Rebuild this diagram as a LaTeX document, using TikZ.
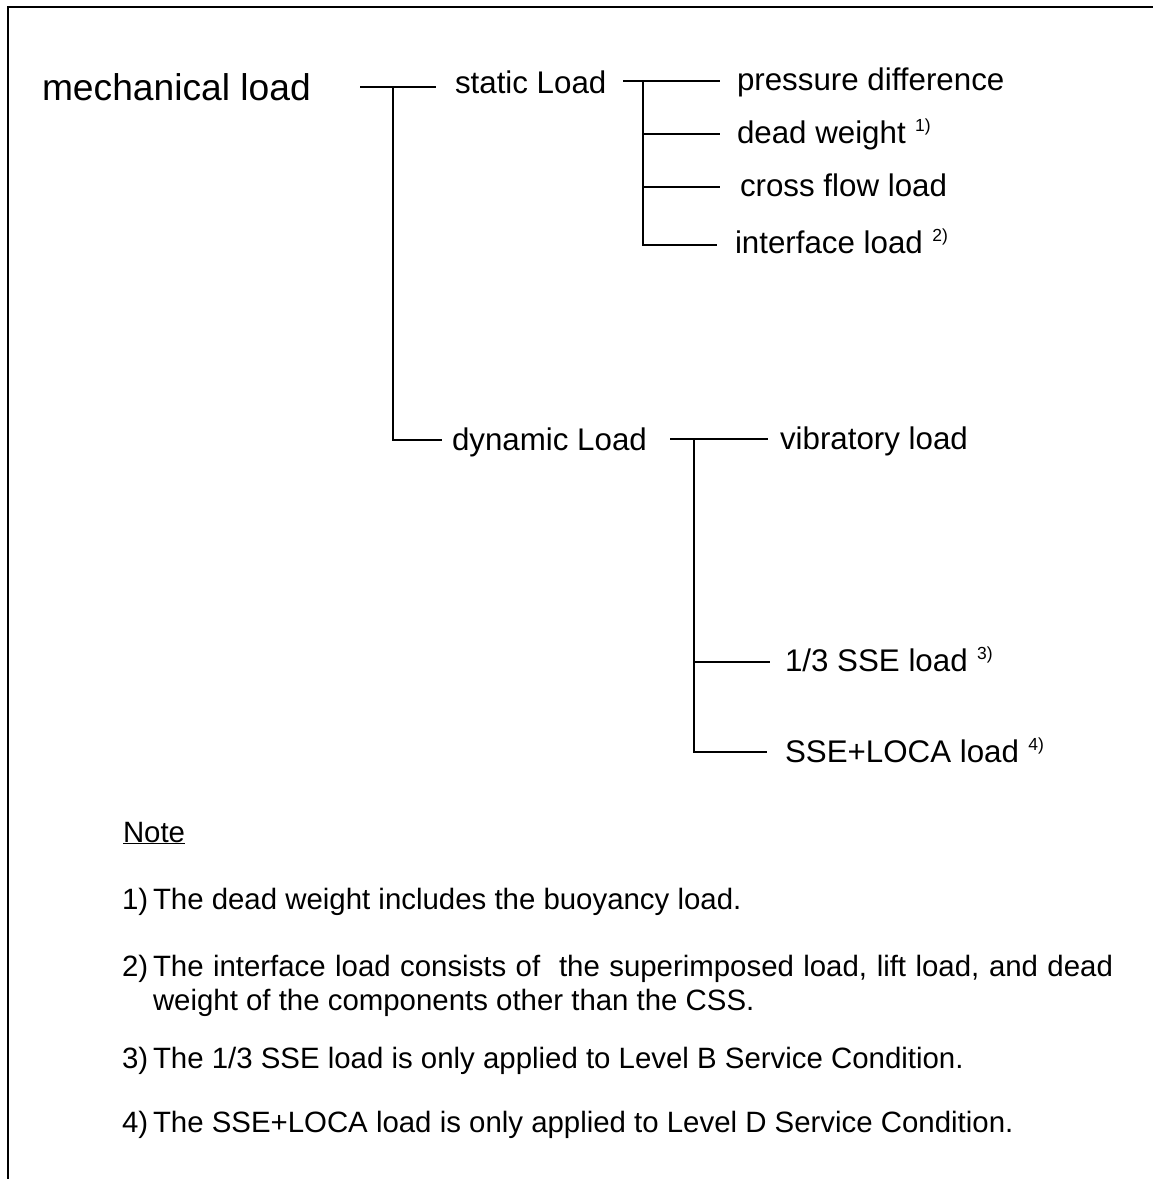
\documentclass[tikz,border=0pt]{standalone}
\usepackage{fontspec}
\setmainfont{Liberation Sans}
\begin{document}
\begin{tikzpicture}[x=1pt,y=-1pt,
  lbl/.style={font=\fontsize{31.3}{37}\selectfont, anchor=base west, inner sep=0pt, outer sep=0pt},
  big/.style={font=\fontsize{37.2}{44}\selectfont, anchor=base west, inner sep=0pt, outer sep=0pt},
  note/.style={font=\fontsize{29.4}{35}\selectfont, anchor=base west, inner sep=0pt, outer sep=0pt},
  conn/.style={line width=2pt},
  frame/.style={line width=2.2pt}]
\newcommand{\fnm}[1]{\hspace{0.3em}\raisebox{12pt}{\fontsize{17.5}{18}\selectfont #1}}
\useasboundingbox (0,0) rectangle (1153,1179);
% frame
\coordinate (f1) at (8,1179);
\coordinate (f2) at (8,7);
\coordinate (f3) at (1153,7);
\draw[frame] (f1) -- (f2) -- (f3);
% labels
\node[big] (mech) at (42,100) {mechanical load};
\node[lbl] (stat) at (455,93) {static Load};
\node[lbl] (dyn) at (452,450) {dynamic Load};
\node[lbl] (pd) at (737,90) {pressure difference};
\node[lbl] (dw) at (737,143) {dead weight\fnm{1)}};
\node[lbl] (cf) at (740,196) {cross flow load};
\node[lbl] (il) at (735,253) {interface load\fnm{2)}};
\node[lbl] (vib) at (780,449) {vibratory load};
\node[lbl] (sse) at (785,671) {1/3 SSE load\fnm{3)}};
\node[lbl] (loca) at (785,762) {SSE+LOCA load\fnm{4)}};
% tree 1
\coordinate (m0) at (360,87);
\coordinate (mj) at (393,87);
\coordinate (m1) at (436,87);
\coordinate (mb) at (393,440);
\coordinate (m2) at (442,440);
\draw[conn] (m0) -- (m1);
\draw[conn] (mj) -- (mb) -- (m2);
% tree static
\coordinate (s0) at (623,81);
\coordinate (sj) at (643,81);
\coordinate (s1) at (720,81);
\coordinate (sj2) at (643,134);
\coordinate (s2) at (720,134);
\coordinate (sj3) at (643,187);
\coordinate (s3) at (720,187);
\coordinate (sb) at (643,245);
\coordinate (s4) at (717,245);
\draw[conn] (s0) -- (s1);
\draw[conn] (sj) -- (sb) -- (s4);
\draw[conn] (sj2) -- (s2);
\draw[conn] (sj3) -- (s3);
% tree dynamic
\coordinate (d0) at (670,439);
\coordinate (dj) at (694,439);
\coordinate (d1) at (768,439);
\coordinate (dj2) at (694,662);
\coordinate (d2) at (770,662);
\coordinate (db) at (694,752);
\coordinate (d3) at (767,752);
\draw[conn] (d0) -- (d1);
\draw[conn] (dj) -- (db) -- (d3);
\draw[conn] (dj2) -- (d2);
% notes
\node[note] (nt) at (123,842) {\underline{Note}};
\node[note] (n1a) at (122,909) {1)};
\node[note] (n1) at (153,909) {The dead weight includes the buoyancy load.};
\node[note] (n2a) at (122,976) {2)};
\node[note] (n2) at (153,976) {\makebox[960pt][s]{The interface load consists of \ the superimposed load, lift load, and dead}};
\node[note] (n2b) at (153,1010) {weight of the components other than the CSS.};
\node[note] (n3a) at (122,1068) {3)};
\node[note] (n3) at (153,1068) {The 1/3 SSE load is only applied to Level B Service Condition.};
\node[note] (n4a) at (122,1132) {4)};
\node[note] (n4) at (153,1132) {The SSE+LOCA load is only applied to Level D Service Condition.};
\end{tikzpicture}
\end{document}
